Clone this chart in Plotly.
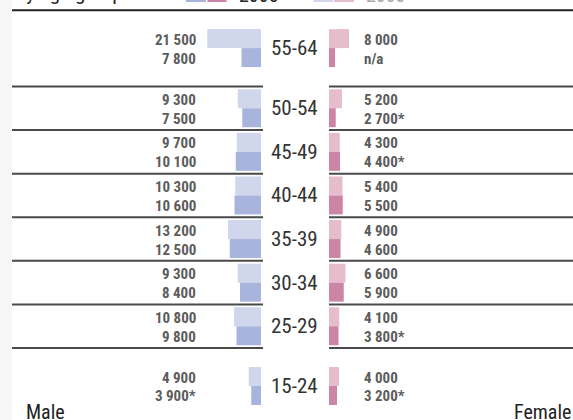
import plotly.graph_objects as go

# ---------------- data ----------------
age_groups = ["15-24", "25-29", "30-34", "35-39", "40-44", "45-49", "50-54", "55-64"]
male_light = [4900, 10800, 9300, 13200, 10300, 9700, 9300, 21500]
male_dark = [3900, 9800, 8400, 12500, 10600, 10100, 7500, 7800]
male_dark_note = ["*", "", "", "", "", "", "", ""]
female_light = [4000, 4100, 6600, 4900, 5400, 4300, 5200, 8000]
female_dark = [3200, 3800, 5900, 4600, 5500, 4400, 2700, 2400]
female_dark_note = ["*", "*", "", "", "", "*", "*", ""]
female_dark_label_override = [None, None, None, None, None, None, None, "n/a"]
legend_years = ["2005", "2000"]

# ---------------- layout helpers ----------------
W, H = 573, 420
row_pos = [0, 1.37, 2.37, 3.37, 4.37, 5.37, 6.37, 7.75]   # vertical row positions
sep_pos = [0.87, 1.87, 2.87, 3.87, 4.87, 5.87, 6.87]
top_line = 8.62
bar_w = 0.435
y_range = [-0.780, 8.853]

C_LB, C_DB = "#d0d6ec", "#a8b4dc"
C_LP, C_DP = "#e5bdcd", "#cc85a6"
NARROW = "Liberation Sans Narrow, Arial Narrow, Roboto Condensed, sans-serif"

def fmt(v):
    return f"{v:,}".replace(",", " ")

fig = go.Figure()
# male bars (reversed axis)
fig.add_trace(go.Bar(y=row_pos, x=male_light, orientation="h", width=bar_w, offset=0,
                     marker=dict(color=C_LB, line_width=0), xaxis="x", yaxis="y", hoverinfo="skip"))
fig.add_trace(go.Bar(y=row_pos, x=male_dark, orientation="h", width=bar_w, offset=-bar_w,
                     marker=dict(color=C_DB, line_width=0), xaxis="x", yaxis="y", hoverinfo="skip"))
# female bars
fig.add_trace(go.Bar(y=row_pos, x=female_light, orientation="h", width=bar_w, offset=0,
                     marker=dict(color=C_LP, line_width=0), xaxis="x2", yaxis="y", hoverinfo="skip"))
fig.add_trace(go.Bar(y=row_pos, x=female_dark, orientation="h", width=bar_w, offset=-bar_w,
                     marker=dict(color=C_DP, line_width=0), xaxis="x2", yaxis="y", hoverinfo="skip"))

ann = []
shapes = []
lab_font = dict(family=NARROW, size=15, color="#5c5c5c", weight="bold")
for i, yp in enumerate(row_pos):
    ann.append(dict(x=294 / W, y=yp, xref="paper", yref="y", text=age_groups[i], showarrow=False,
                    xanchor="center", yanchor="middle", font=dict(family=NARROW, size=21, color="#333")))
    ann.append(dict(x=198 / W, y=yp + bar_w / 2, xref="paper", yref="y", text=fmt(male_light[i]),
                    showarrow=False, xanchor="right", yanchor="middle", yshift=-1, font=lab_font))
    ann.append(dict(x=198 / W, y=yp - bar_w / 2, xref="paper", yref="y",
                    text=fmt(male_dark[i]) + male_dark_note[i],
                    showarrow=False, xanchor="right", yanchor="middle", yshift=-1, font=lab_font))
    ann.append(dict(x=362 / W, y=yp + bar_w / 2, xref="paper", yref="y", text=fmt(female_light[i]),
                    showarrow=False, xanchor="left", yanchor="middle", yshift=-1, font=lab_font))
    ftxt = female_dark_label_override[i] or (fmt(female_dark[i]) + female_dark_note[i])
    ann.append(dict(x=362 / W, y=yp - bar_w / 2, xref="paper", yref="y", text=ftxt,
                    showarrow=False, xanchor="left", yanchor="middle", yshift=-1, font=lab_font))

# left grey strip
shapes.append(dict(type="rect", xref="paper", yref="paper", x0=0, x1=12 / W, y0=0, y1=1,
                   fillcolor="#f6f6f4", line_width=0, layer="below"))
# separator lines
for s in sep_pos:
    shapes.append(dict(type="line", xref="paper", yref="y", x0=12 / W, x1=263 / W, y0=s, y1=s,
                       line=dict(color="#4a4a4a", width=2)))
    shapes.append(dict(type="line", xref="paper", yref="y", x0=329 / W, x1=1, y0=s, y1=s,
                       line=dict(color="#4a4a4a", width=2)))
shapes.append(dict(type="line", xref="paper", yref="y", x0=12 / W, x1=1, y0=top_line, y1=top_line,
                   line=dict(color="#222", width=2)))

# cropped legend at top
for (x0, x1, c) in [(186, 206, C_DB), (207.5, 226.5, C_DP), (313.5, 333, C_LB), (334, 354, C_LP)]:
    shapes.append(dict(type="rect", xref="paper", yref="paper", x0=x0 / W, x1=x1 / W,
                       y0=1 - 2 / H, y1=1 + 20 / H, fillcolor=c, line_width=0))
ann.append(dict(x=237 / W, y=1, xref="paper", yref="paper", text=legend_years[0], showarrow=False,
                xanchor="left", yanchor="middle", yshift=5,
                font=dict(family=NARROW, size=20, color="#222")))
ann.append(dict(x=364 / W, y=1, xref="paper", yref="paper", text=legend_years[1], showarrow=False,
                xanchor="left", yanchor="middle", yshift=5,
                font=dict(family=NARROW, size=20, color="#aaa")))
ann.append(dict(x=14 / W, y=1, xref="paper", yref="paper", text="by age group", showarrow=False,
                xanchor="left", yanchor="middle", yshift=7,
                font=dict(family=NARROW, size=21, color="#222")))

# Male / Female
ann.append(dict(x=24 / W, y=0, xref="paper", yref="paper", text="Male", showarrow=False,
                xanchor="left", yanchor="middle", yshift=8, font=dict(family=NARROW, size=20, color="#222")))
ann.append(dict(x=1, y=0, xref="paper", yref="paper", text="Female", showarrow=False,
                xanchor="right", yanchor="middle", yshift=8, font=dict(family=NARROW, size=20, color="#222")))

fig.update_layout(
    width=W, height=H, margin=dict(l=0, r=0, t=0, b=0),
    paper_bgcolor="white", plot_bgcolor="rgba(0,0,0,0)",
    showlegend=False, barmode="overlay",
    xaxis=dict(domain=[0, 261 / W], range=[261 * 400, 0], visible=False, fixedrange=True),
    xaxis2=dict(domain=[329 / W, 1], range=[0, 244 * 400], visible=False, fixedrange=True, anchor="y"),
    yaxis=dict(range=y_range, visible=False, fixedrange=True),
    annotations=ann, shapes=shapes,
)

fig.write_html("out.html", config={"displayModeBar": False},
               post_script="document.body.style.margin='0';document.body.style.overflow='hidden';")
